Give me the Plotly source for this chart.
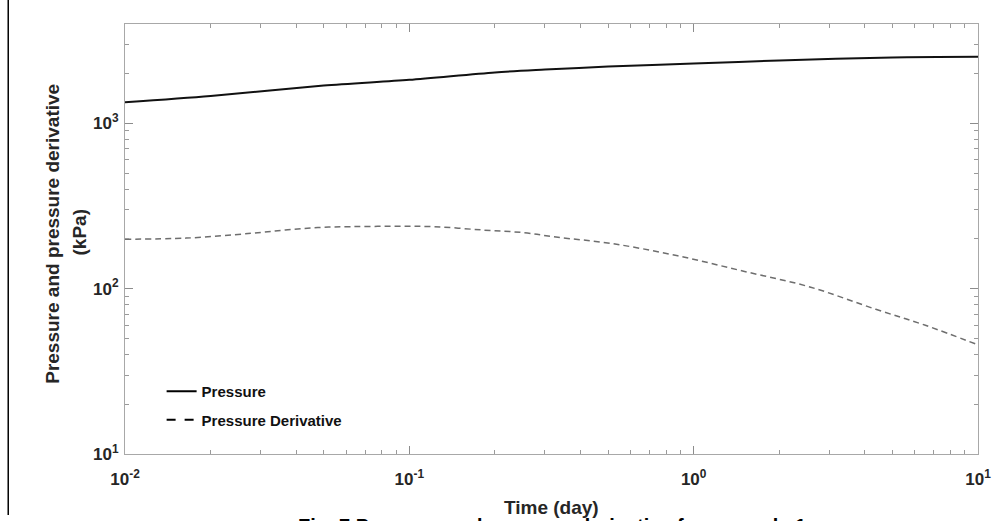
import plotly.graph_objects as go

# ---- data ----
time_p = [0.01, 0.02, 0.05, 0.1, 0.2, 0.3, 0.5, 1, 2, 5, 10]
pressure = [1340, 1462, 1690, 1830, 2030, 2110, 2200, 2296, 2395, 2500, 2522]

time_d = [0.01, 0.0164, 0.0279, 0.0366, 0.0477, 0.0622, 0.0873, 0.122, 0.182,
          0.252, 0.328, 0.518, 0.879, 1.51, 2.58, 4.37, 6.53, 10]
derivative = [199, 202, 216, 226, 234, 237, 238, 237, 226,
              218, 205, 187, 158, 127, 102, 75, 60, 45.7]

x_tickvals = [0.01, 0.1, 1, 10]
x_ticktext = ["10<sup>-2</sup>", "10<sup>-1</sup>", "10<sup>0</sup>", "10<sup>1</sup>"]
y_tickvals = [10, 100, 1000]
y_ticktext = ["10<sup>1</sup>", "10<sup>2</sup>", "10<sup>3</sup>"]

FONT = "Liberation Sans, Arial, sans-serif"
TXT = "#262626"

fig = go.Figure()
fig.add_trace(go.Scatter(x=time_p, y=pressure, mode="lines", line_shape="spline",
                         line=dict(color="#111111", width=2, smoothing=0.8), showlegend=False))
fig.add_trace(go.Scatter(x=time_d, y=derivative, mode="lines", line_shape="spline",
                         line=dict(color="#6e6e6e", width=1.5, dash="6px,4px"),
                         showlegend=False))
# legend entries
fig.add_trace(go.Scatter(x=[None], y=[None], mode="lines", name="Pressure",
                         line=dict(color="#000000", width=2), legendgroup="a"))
fig.add_trace(go.Scatter(x=[None], y=[None], mode="lines", name="Pressure Derivative",
                         line=dict(color="#000000", width=2, dash="dash"), legendgroup="b"))

axis_common = dict(
    showgrid=False, zeroline=False, showline=True, linecolor="#a8a8a8", linewidth=1,
    mirror="ticks", ticks="inside", ticklen=8, tickwidth=1, tickcolor="#8c8c8c",
    tickfont=dict(family=FONT, size=17, color=TXT, weight="bold"),
    minor=dict(ticks="inside", ticklen=4, tickwidth=1, tickcolor="#9a9a9a", dtick="D1", showgrid=False),
)

fig.update_xaxes(type="log", range=[-2, 1], tickmode="array", ticklabelstandoff=10,
                 tickvals=x_tickvals, ticktext=x_ticktext, **axis_common)
fig.update_yaxes(type="log", range=[1, 3.6], tickmode="array", ticklabelstandoff=2,
                 tickvals=y_tickvals, ticktext=y_ticktext, **axis_common)

W, H = 1003, 521
L, R, T, B = 125, 16, 24, 67
pw, ph = W - L - R, H - T - B

def px(x):
    return (x - L) / pw

def py(y):
    return (H - B - y) / ph

fig.update_layout(
    width=W, height=H, autosize=False,
    margin=dict(l=L, r=R, t=T, b=B),
    paper_bgcolor="white", plot_bgcolor="white",
    legend=dict(x=px(162), y=py(375), xanchor="left", yanchor="top",
                bgcolor="rgba(0,0,0,0)", traceorder="grouped", tracegroupgap=6,
                font=dict(family=FONT, size=15, color="#111111", weight="bold")),
    annotations=[
        dict(text="Pressure and pressure derivative", xref="paper", yref="paper",
             x=px(51), y=py(234), xanchor="center", yanchor="middle", textangle=-90,
             showarrow=False, font=dict(family=FONT, size=19, color=TXT, weight="bold")),
        dict(text="(kPa)", xref="paper", yref="paper",
             x=px(79), y=py(232), xanchor="center", yanchor="middle", textangle=-90,
             showarrow=False, font=dict(family=FONT, size=19, color=TXT, weight="bold")),
        dict(text="Time (day)", xref="paper", yref="paper",
             x=px(556), y=py(495), xanchor="center", yanchor="top",
             showarrow=False, font=dict(family=FONT, size=19, color=TXT, weight="bold")),
        dict(text="Fig. 7 Pressure and pressure derivative for example 1", xref="paper", yref="paper",
             x=px(556), y=py(513), xanchor="center", yanchor="top",
             showarrow=False, font=dict(family=FONT, size=20, color="#000000", weight="bold")),
    ],
    shapes=[dict(type="line", xref="paper", yref="paper",
                 x0=px(7), x1=px(7), y0=py(515), y1=py(0),
                 line=dict(color="#000000", width=1.5))],
)

fig.write_html("out.html")
